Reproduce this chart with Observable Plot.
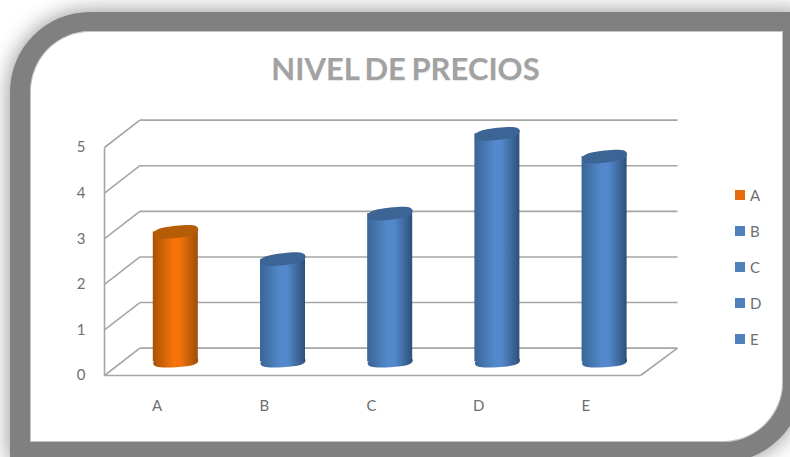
<!DOCTYPE html>
<html lang="es">
<head>
<meta charset="utf-8">
<title>Nivel de precios</title>
<script src="https://cdn.jsdelivr.net/npm/d3@7"></script>
<script src="https://cdn.jsdelivr.net/npm/@observablehq/plot@0.6"></script>
<style>
  html, body { margin: 0; padding: 0; width: 790px; height: 457px; overflow: hidden; background: #fff; }
  #page { position: relative; width: 790px; height: 457px; overflow: hidden; font-family: Lato, "Open Sans", sans-serif; }
  #frame {
    position: absolute; left: 10px; top: 12px; width: 753px; height: 411px;
    border: 20px solid #808080; border-top-width: 19px; background: #fff;
    border-radius: 80px 0 80px 0;
    box-shadow: 0 0 22px rgba(0,0,0,.45), inset 0 0 0 1px #c4c4c4;
  }
  #title {
    position: absolute; left: 29px; width: 753px; top: 49px; text-align: center;
    font-size: 31px; font-weight: 700; line-height: 38px; letter-spacing: 0; word-spacing: -2px;
    color: #a2a2a2; text-shadow: 0 1px 1px rgba(0,0,0,.1);
  }
  #chart { position: absolute; left: 0; top: 0; }
  #legend { position: absolute; left: 735px; top: 185px; font-size: 15px; color: #6f6f6f; }
  #legend div { height: 36px; line-height: 20px; display: flex; align-items: flex-start; }
  #legend i { display: inline-block; width: 10px; height: 10px; margin: 5px 5px 0 0; }
</style>
</head>
<body>
<div id="page">
  <div id="frame"></div>
  <div id="chart"></div>
  <div id="title">NIVEL DE PRECIOS</div>
  <div id="legend"></div>
</div>
<script>
// Price level per category
const categories = ["A", "B", "C", "D", "E"];
const values = [2.85, 2.25, 3.25, 5, 4.5];
const yTicks = [0, 1, 2, 3, 4, 5];
const highlighted = ["A"];

// Depth of the 3D box, in data units
const depthX = 0.33;
const depthY = 0.6;
const barHalf = 0.21;

const bars = categories.map((c, i) => ({
  category: c,
  center: i + 0.5 + depthX / 2,
  top: values[i] + depthY / 2,
  base: depthY / 2,
  fill: highlighted.includes(c) ? "url(#cylOrange)" : "url(#cylBlue)",
  cap: highlighted.includes(c) ? "#b65b06" : "#3c6494"
}));

// Skewed, slightly squared ellipse sized by the dot radius; the left end sits lower than the right
const ellipse = (ratioB, ratioK) => ({
  draw(ctx, size) {
    const a = Math.sqrt(size / Math.PI), b = a * ratioB, k = a * ratioK, m = 0.72;
    const P = (c, s) => [a * c, b * s - k * c];
    const seg = (p1, p2, p3) => ctx.bezierCurveTo(...P(...p1), ...P(...p2), ...P(...p3));
    ctx.moveTo(...P(1, 0));
    seg([1, m], [m, 1], [0, 1]);
    seg([-m, 1], [-1, m], [-1, 0]);
    seg([-1, -m], [-m, -1], [0, -1]);
    seg([m, -1], [1, -m], [1, 0]);
    ctx.closePath();
  }
});

const gradient = (id, edgeL, mid, edgeR) => {
  const g = d3.create("svg:linearGradient").attr("id", id);
  [[0, edgeL], [0.45, mid], [0.6, mid], [1, edgeR]].forEach(([o, c]) =>
    g.append("stop").attr("offset", o).attr("stop-color", c));
  return g.node();
};

const defs = () => {
  const d = d3.create("svg:defs");
  d.append(() => gradient("cylBlue", "#3a6596", "#5389cc", "#2e5079"));
  d.append(() => gradient("cylOrange", "#a85307", "#f5730a", "#9c4e06"));
  return d.node();
};

const lineStyle = { stroke: "#a6a6a6", strokeWidth: 1.6 };

const chart = Plot.plot({
  width: 790,
  height: 457,
  marginLeft: 104,
  marginRight: 150,
  marginTop: 0,
  marginBottom: 82,
  x: { type: "linear", domain: [0, 5], range: [104, 640], axis: null },
  y: { domain: [0, 5], range: [375, 147], axis: null },
  color: { type: "identity" },
  style: { background: "transparent", fontFamily: "Lato, 'Open Sans', sans-serif", fontSize: "15px", color: "#6f6f6f" },
  marks: [
    defs,
    // back wall, side wall and floor
    Plot.link(yTicks, { x1: depthX, y1: v => v + depthY, x2: 5 + depthX + 0.015, y2: v => v + depthY, ...lineStyle }),
    Plot.link(yTicks, { x1: 0, y1: v => v, x2: depthX, y2: v => v + depthY, ...lineStyle }),
    Plot.link([0], { x1: 0, y1: 0, x2: 0, y2: 5, ...lineStyle }),
    Plot.link([0], { x1: 0, y1: 0, x2: 5, y2: 0, ...lineStyle }),
    Plot.link([0], { x1: 5, y1: 0, x2: 5 + depthX + 0.015, y2: depthY, ...lineStyle }),
    // cylinders: base, body, lid
    Plot.dot(bars, { x: "center", y: "base", r: 22.5, symbol: ellipse(0.24, 0.06), fill: "fill" }),
    Plot.rect(bars, { x1: d => d.center - barHalf, x2: d => d.center + barHalf, y1: "base", y2: "top", fill: "fill" }),
    Plot.dot(bars, { x: "center", y: "top", r: 22.5, symbol: ellipse(0.27, 0.11), fill: "cap" }),
    // axes
    Plot.axisY({ ticks: yTicks, tickSize: 0, tickPadding: 19, label: null, tickFormat: d => d }),
    Plot.axisX({
      ticks: categories.map((_, i) => i + 0.5),
      tickFormat: v => categories[v - 0.5],
      tickSize: 0, tickPadding: 25, dx: -1, label: null
    })
  ]
});
document.getElementById("chart").append(chart);

// Legend
const legend = d3.select("#legend");
categories.forEach(c => {
  const row = legend.append("div");
  row.append("i").style("background", highlighted.includes(c) ? "#e96c0c" : "#4f81bd");
  row.append("span").text(c);
});
</script>
</body>
</html>
